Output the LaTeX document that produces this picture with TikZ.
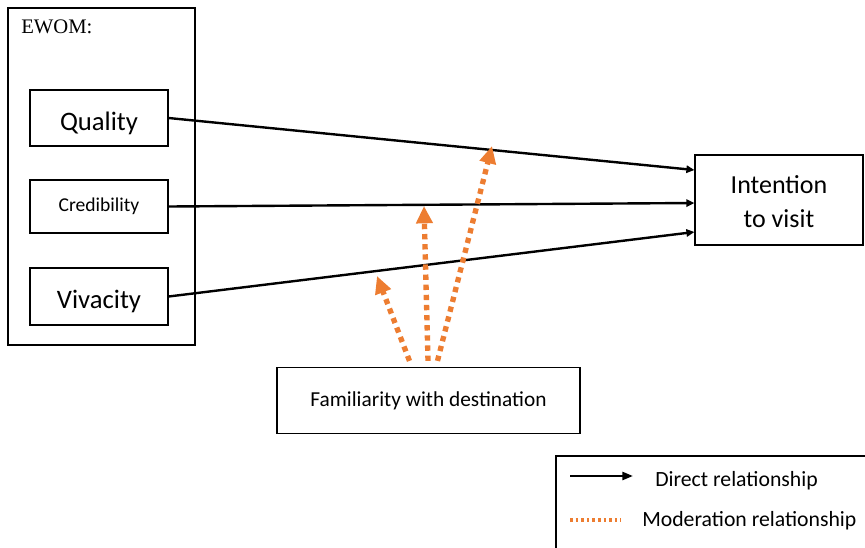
\documentclass[tikz,border=0pt]{standalone}
\usepackage{fontspec}
\setmainfont{Carlito}
\newfontfamily\timesfont{Liberation Serif}
\usepackage{xcolor}
\usepackage{tikz}
\usetikzlibrary{arrows.meta,positioning}

\definecolor{modorange}{HTML}{ED7D31}

\begin{document}
\begin{tikzpicture}[
  x=0.75pt,y=-0.75pt,
  box/.style={draw=black,line width=0.9pt,inner sep=0pt,align=center},
  direct/.style={-{Triangle[length=6pt,width=5.5pt]},line width=1.8pt,color=black},
  moder/.style={-{Triangle[length=13pt,width=12pt]},line width=4pt,color=modorange,dash pattern=on 4pt off 3.6pt}
]
\useasboundingbox (0,0) rectangle (865,547);
% EWOM group
\node[box,minimum width=140.25pt,minimum height=252.75pt] (ewom) at (101.5,176.5) {};
\node[anchor=west,inner sep=0pt,font=\timesfont\fontsize{15.5}{18}\selectfont] (ewomlab) at (21,27) {EWOM:};
\node[box,minimum width=103.5pt,minimum height=42pt,font=\fontsize{20}{24}\selectfont] (quality) at (99,118) {\raisebox{-3.75pt}[\height][\depth]{Quality}};
\node[box,minimum width=103.5pt,minimum height=39.75pt,font=\fontsize{14.7}{18}\selectfont] (cred) at (99,206.5) {Credibility};
\node[box,minimum width=103.5pt,minimum height=42.75pt,font=\fontsize{20}{24}\selectfont] (viva) at (99,296.5) {\raisebox{-3.75pt}[\height][\depth]{Vivacity}};
% outcome and moderator
\node[box,minimum width=126pt,minimum height=67.5pt,font=\fontsize{19.5}{25.5}\selectfont] (intent) at (779,200)
  {\raisebox{-2.5pt}[\height][\depth]{\begin{tabular}{@{}c@{}}Intention\\to visit\end{tabular}}};
\node[box,minimum width=227.25pt,minimum height=49.5pt,font=\fontsize{16}{20}\selectfont] (fam) at (428.5,400.5) {Familiarity with destination};
% direct paths
\draw[direct] (quality.east) -- ([yshift=22.5pt]intent.west);
\draw[direct] (cred.east) -- ([yshift=-2.25pt]intent.west);
\draw[direct] (viva.east) -- ([yshift=-24pt]intent.west);
% moderation
\coordinate (modviva) at (377,276);
\coordinate (modcred) at (424,206);
\coordinate (modqual) at (492,146);
\draw[moder] ([shift={(-19,-6)}]fam.north) -- (modviva);
\draw[moder] ([shift={(-0.5,-6)}]fam.north) -- (modcred);
\draw[moder] ([shift={(9,-6)}]fam.north) -- (modqual);
% legend
\draw[line width=0.9pt] (556,560) |- (870,456);
\coordinate (legA) at (570,476);
\coordinate (legB) at (570,520);
\draw[direct,-{Triangle[length=8pt,width=6pt]}] (legA) -- ++(63,0);
\draw[color=modorange,line width=2.4pt,dash pattern=on 2pt off 2.2pt] (legB) -- ++(51,0);
\node[anchor=west,inner sep=0pt,font=\fontsize{16.3}{20}\selectfont] (legdirect) at (655,481) {Direct relationship};
\node[anchor=west,inner sep=0pt,font=\fontsize{16.3}{20}\selectfont] (legmoder) at (642,521) {Moderation relationship};
\end{tikzpicture}
\end{document}
